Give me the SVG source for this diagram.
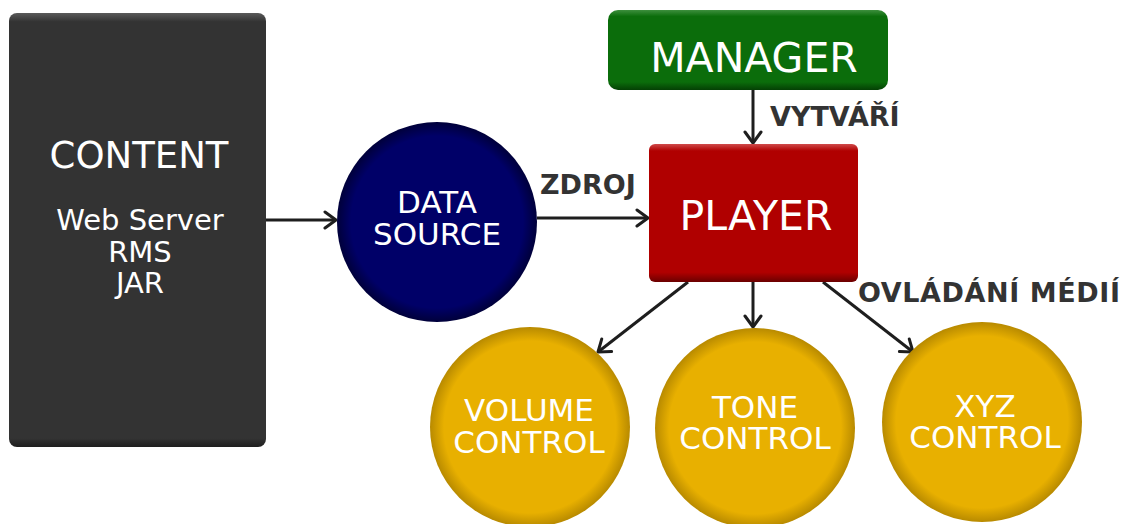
<svg xmlns="http://www.w3.org/2000/svg" width="1126" height="524" viewBox="0 0 1126 524">
<defs>
<style>
.t{font-family:"DejaVu Sans","Verdana",sans-serif;fill:#ffffff;text-anchor:middle}
.lbl{font-family:"DejaVu Sans","Verdana",sans-serif;font-weight:bold;fill:#333333;font-size:27px}
.conn{stroke:#1e1e1e;stroke-width:3;fill:none}
</style>
<marker id="ah" markerWidth="20" markerHeight="20" refX="14" refY="10" orient="auto" markerUnits="userSpaceOnUse">
<path d="M3,2 L14,10 L3,18" fill="none" stroke="#1e1e1e" stroke-width="3" stroke-linecap="round" stroke-linejoin="round"/>
</marker>
<linearGradient id="gContent" x1="0" y1="0" x2="0" y2="1">
<stop offset="0" stop-color="#5a5a5a"/><stop offset="0.02" stop-color="#333333"/><stop offset="0.98" stop-color="#333333"/><stop offset="1" stop-color="#1e1e1e"/>
</linearGradient>
<linearGradient id="gManager" x1="0" y1="0" x2="0" y2="1">
<stop offset="0" stop-color="#3d8f3d"/><stop offset="0.08" stop-color="#0b6d0b"/><stop offset="0.9" stop-color="#0b6d0b"/><stop offset="1" stop-color="#044004"/>
</linearGradient>
<linearGradient id="gPlayer" x1="0" y1="0" x2="0" y2="1">
<stop offset="0" stop-color="#cf4a4a"/><stop offset="0.05" stop-color="#b00000"/><stop offset="0.93" stop-color="#b00000"/><stop offset="1" stop-color="#6a0000"/>
</linearGradient>
<radialGradient id="gNavy" cx="0.5" cy="0.5" r="0.5">
<stop offset="0" stop-color="#000068"/><stop offset="0.86" stop-color="#000068"/><stop offset="1" stop-color="#00003a"/>
</radialGradient>
<radialGradient id="gYellow" cx="0.5" cy="0.5" r="0.5">
<stop offset="0" stop-color="#e8b000"/><stop offset="0.86" stop-color="#e8b000"/><stop offset="1" stop-color="#b88a00"/>
</radialGradient>
</defs>
<rect width="1126" height="524" fill="#ffffff"/>

<g id="connectors">
<line class="conn" x1="266" y1="220" x2="336" y2="220" marker-end="url(#ah)"/>
<line class="conn" x1="537" y1="218" x2="648" y2="218" marker-end="url(#ah)"/>
<line class="conn" x1="753" y1="90" x2="753" y2="143" marker-end="url(#ah)"/>
<line class="conn" x1="688" y1="282" x2="598" y2="352" marker-end="url(#ah)"/>
<line class="conn" x1="753" y1="282" x2="753" y2="327" marker-end="url(#ah)"/>
<line class="conn" x1="823" y1="282" x2="913" y2="352" marker-end="url(#ah)"/>
<text class="lbl" x="540" y="194">ZDROJ</text>
<text class="lbl" x="770" y="126">VYTVÁŘÍ</text>
<text class="lbl" x="858" y="302" textLength="262">OVLÁDÁNÍ MÉDIÍ</text>
</g>

<g id="content">
<rect x="9" y="13" width="257" height="434" rx="8" fill="url(#gContent)"/>
<text class="t" x="139" y="168" font-size="37">CONTENT</text>
<text class="t" x="140" y="230" font-size="29">Web Server</text>
<text class="t" x="140" y="262" font-size="29">RMS</text>
<text class="t" x="140" y="293" font-size="29">JAR</text>
</g>

<g id="datasource">
<circle cx="437" cy="222" r="100" fill="url(#gNavy)"/>
<text class="t" x="437" y="213" font-size="31">DATA</text>
<text class="t" x="437" y="245" font-size="31">SOURCE</text>
</g>

<g id="manager">
<rect x="608" y="10" width="280" height="80" rx="10" fill="url(#gManager)"/>
<text class="t" x="754" y="72" font-size="41">MANAGER</text>
</g>

<g id="player">
<rect x="649" y="144" width="209" height="138" rx="6" fill="url(#gPlayer)"/>
<text class="t" x="756" y="230" font-size="41">PLAYER</text>
</g>

<g id="volume">
<circle cx="530" cy="427" r="100" fill="url(#gYellow)"/>
<text class="t" x="529" y="421" font-size="31">VOLUME</text>
<text class="t" x="529" y="453" font-size="31">CONTROL</text>
</g>

<g id="tone">
<circle cx="755" cy="428" r="100" fill="url(#gYellow)"/>
<text class="t" x="755" y="418" font-size="31">TONE</text>
<text class="t" x="755" y="449" font-size="31">CONTROL</text>
</g>

<g id="xyz">
<circle cx="982" cy="422" r="100" fill="url(#gYellow)"/>
<text class="t" x="985" y="417" font-size="31">XYZ</text>
<text class="t" x="985" y="448" font-size="31">CONTROL</text>
</g>
</svg>
